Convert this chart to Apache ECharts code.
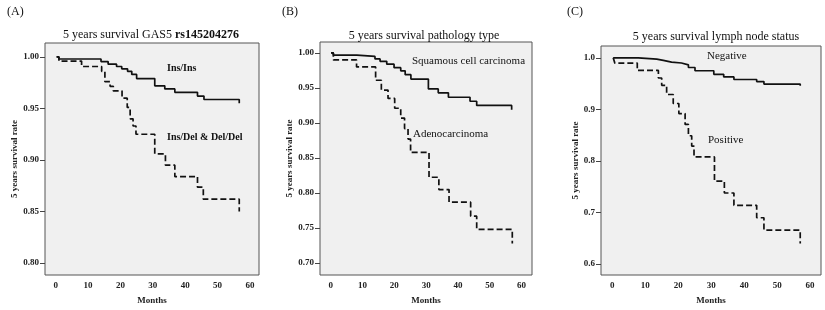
<!DOCTYPE html>
<html><head><meta charset="utf-8">
<script src="https://cdn.jsdelivr.net/npm/echarts@6/dist/echarts.min.js"></script>
<style>html,body{margin:0;padding:0;background:#fff}#c{width:825px;height:310px}</style>
</head><body><div id="c"></div>
<script>
// Panel A: GAS5 rs145204276
const aInsTime = [0.3, 1, 14, 16.2, 18.8, 20.4, 22.2, 23.5, 25, 30.6, 33.7, 36.8, 43.8, 45.8, 56.7];
const aInsSurv = [1.000, 0.998, 0.9955, 0.993, 0.9907, 0.9885, 0.986, 0.983, 0.979, 0.972, 0.969, 0.9657, 0.962, 0.9587, 0.955];
const aDelTime = [0.3, 1, 8, 14.2, 15.2, 16.8, 17.8, 20.5, 22.1, 23, 23.9, 24.8, 30.6, 33.9, 36.8, 43.8, 45.6, 56.7];
const aDelSurv = [1.000, 0.996, 0.9907, 0.986, 0.976, 0.9715, 0.967, 0.960, 0.951, 0.940, 0.933, 0.925, 0.906, 0.895, 0.884, 0.8737, 0.862, 0.850];
// Panel B: pathology type
const bSqTime = [0.1, 0.8, 8.2, 13.9, 15.5, 17.6, 19.9, 22, 23.4, 25.2, 30.7, 33.8, 37, 43.8, 45.9, 56.9];
const bSqSurv = [1.000, 0.997, 0.995, 0.9915, 0.988, 0.984, 0.979, 0.9745, 0.969, 0.9627, 0.9486, 0.943, 0.9367, 0.931, 0.925, 0.919];
const bAdTime = [0.1, 0.8, 8.1, 14.1, 15.9, 18, 20.1, 22, 23.2, 24.3, 25.1, 30.9, 34, 37.2, 44, 45.9, 57.1];
const bAdSurv = [1.000, 0.990, 0.980, 0.961, 0.947, 0.935, 0.921, 0.907, 0.892, 0.877, 0.858, 0.8225, 0.805, 0.787, 0.767, 0.748, 0.728];
// Panel C: lymph node status
const cNegTime = [0.3, 7.9, 13.5, 15.5, 18, 21, 23.1, 25.1, 30.8, 33.8, 36.9, 43.8, 46, 57];
const cNegSurv = [1.000, 0.9975, 0.995, 0.9917, 0.990, 0.9865, 0.9813, 0.975, 0.968, 0.963, 0.958, 0.954, 0.9492, 0.946];
const cPosTime = [0.3, 0.8, 7.6, 14, 15, 16.5, 18.5, 20.2, 22.1, 23.1, 24.1, 24.8, 31, 34, 36.9, 43.8, 46, 57];
const cPosSurv = [1.000, 0.9898, 0.9756, 0.961, 0.9468, 0.929, 0.9115, 0.892, 0.871, 0.849, 0.829, 0.808, 0.761, 0.738, 0.714, 0.690, 0.666, 0.640];
// Tick values
const xTicks = [0, 10, 20, 30, 40, 50, 60];
const aYTicks = [0.80, 0.85, 0.90, 0.95, 1.00];
const bYTicks = [0.70, 0.75, 0.80, 0.85, 0.90, 0.95, 1.00];
const cYTicks = [0.6, 0.7, 0.8, 0.9, 1.0];

const SERIF = 'Liberation Serif';
const pairs = (t, v) => t.map((x, i) => [x, v[i]]);

const grids = [
  {left: 45, top: 43, width: 214, height: 234},
  {left: 320, top: 42, width: 212, height: 235},
  {left: 601, top: 46, width: 220, height: 231}
];
const xr = [[-3.3, 62.8], [-3.4, 63.3], [-3.4, 63.3]];
const yr = [[0.7885, 1.0135], [0.683, 1.0156], [0.579, 1.023]];
const yt = [aYTicks, bYTicks, cYTicks];
const yd = [2, 2, 1];
const nameGaps = [23, 22, 20];

const chart = echarts.init(document.getElementById('c'), null, {renderer: 'canvas'});
const option = {
  animation: false,
  backgroundColor: '#fff',
  grid: grids.map(g => Object.assign({show: true, backgroundColor: '#f0f0f0', borderColor: '#555', borderWidth: 1}, g)),
  xAxis: grids.map((g, i) => ({
    type: 'value', gridIndex: i, min: xr[i][0], max: xr[i][1],
    axisLine: {show: false, onZero: false},
    axisTick: {show: false, customValues: xTicks},
    axisLabel: {customValues: xTicks, fontFamily: SERIF, fontWeight: 'bold', fontSize: 9, color: '#222', margin: 6},
    splitLine: {show: false},
    name: 'Months', nameLocation: 'middle', nameGap: 21,
    nameTextStyle: {fontFamily: SERIF, fontWeight: 'bold', fontSize: 9, color: '#222'}
  })),
  yAxis: grids.map((g, i) => ({
    type: 'value', gridIndex: i, min: yr[i][0], max: yr[i][1],
    axisLine: {show: false, onZero: false},
    axisTick: {show: true, length: 5, lineStyle: {color: '#444'}, customValues: yt[i]},
    axisLabel: {customValues: yt[i], formatter: v => v.toFixed(yd[i]), fontFamily: SERIF, fontWeight: 'bold', fontSize: 9, color: '#222', margin: 6},
    splitLine: {show: false},
    name: '5 years survival rate', nameLocation: 'middle', nameRotate: 90, nameGap: nameGaps[i],
    nameTextStyle: {fontFamily: SERIF, fontWeight: 'bold', fontSize: 9, color: '#222'}
  })),
  title: [
    {text: '{n|5 years survival GAS5 }{b|rs145204276}', left: 146, top: 24, textAlign: 'center',
     textStyle: {fontWeight: 'normal', rich: {n: {fontFamily: SERIF, fontSize: 12, fontWeight: 'normal', color: '#111'}, b: {fontFamily: SERIF, fontSize: 12, fontWeight: 'bold', color: '#111'}}}},
    {text: '5 years survival pathology type', left: 419, top: 25, textAlign: 'center',
     textStyle: {fontFamily: SERIF, fontSize: 12, fontWeight: 'normal', color: '#111'}},
    {text: '5 years survival lymph node status', left: 711, top: 26, textAlign: 'center',
     textStyle: {fontFamily: SERIF, fontSize: 12, fontWeight: 'normal', color: '#111'}}
  ],
  graphic: [
    {type: 'text', left: 7, top: 6, style: {text: '(A)', font: '12px "Liberation Serif"', fill: '#111'}},
    {type: 'text', left: 282, top: 6, style: {text: '(B)', font: '12px "Liberation Serif"', fill: '#111'}},
    {type: 'text', left: 567, top: 6, style: {text: '(C)', font: '12px "Liberation Serif"', fill: '#111'}},
    {type: 'text', left: 167, top: 63, style: {text: 'Ins/Ins', font: 'bold 10px "Liberation Serif"', fill: '#111'}},
    {type: 'text', left: 167, top: 132, style: {text: 'Ins/Del & Del/Del', font: 'bold 10px "Liberation Serif"', fill: '#111'}},
    {type: 'text', left: 412, top: 56, style: {text: 'Squamous cell carcinoma', font: '11px "Liberation Serif"', fill: '#111'}},
    {type: 'text', left: 413, top: 129, style: {text: 'Adenocarcinoma', font: '11px "Liberation Serif"', fill: '#111'}},
    {type: 'text', left: 707, top: 51, style: {text: 'Negative', font: '11px "Liberation Serif"', fill: '#111'}},
    {type: 'text', left: 708, top: 135, style: {text: 'Positive', font: '11px "Liberation Serif"', fill: '#111'}}
  ],
  series: [
    [0, aInsTime, aInsSurv, 'solid'], [0, aDelTime, aDelSurv, [6, 3]],
    [1, bSqTime, bSqSurv, 'solid'], [1, bAdTime, bAdSurv, [6, 3]],
    [2, cNegTime, cNegSurv, 'solid'], [2, cPosTime, cPosSurv, [6, 3]]
  ].map(([g, t, v, ty]) => ({
    type: 'line', xAxisIndex: g, yAxisIndex: g, step: 'end', showSymbol: false,
    data: pairs(t, v), lineStyle: {color: '#111', width: 1.7, type: ty}
  }))
};
chart.setOption(option);
</script></body></html>
